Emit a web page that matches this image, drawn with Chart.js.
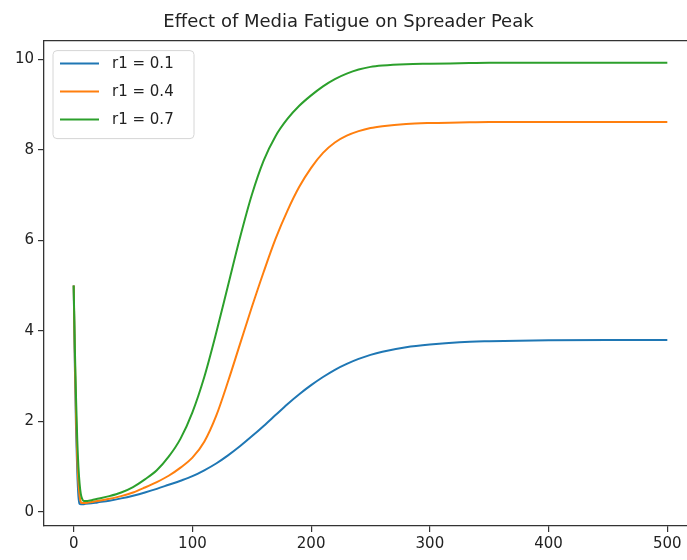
<!DOCTYPE html>
<html>
<head>
<meta charset="utf-8">
<script src="https://cdn.jsdelivr.net/npm/chart.js@4/dist/chart.umd.min.js"></script>
<style>
  html, body { margin: 0; padding: 0; background: #fff; overflow: hidden; }
  #clip { width: 687px; height: 560px; overflow: hidden; position: relative; }
  #wrap { width: 700px; height: 560px; position: absolute; left: 0; top: 0; }
</style>
</head>
<body>
<div id="clip"><div id="wrap"><canvas id="chart" width="700" height="560"></canvas></div></div>
<script>
// time steps and the three spreader curves
const tVals = [0, 1, 2, 3, 4, 5, 6, 7, 8, 10, 15, 20, 30, 40, 50, 60, 70, 80, 90, 100,
  110, 120, 130, 140, 150, 160, 170, 180, 190, 200, 210, 220, 230, 240, 250, 260,
  280, 300, 325, 350, 400, 450, 500];
const r1Low = [5, 3.2, 1.8, 0.9, 0.35, 0.18, 0.17, 0.17, 0.17, 0.18, 0.19, 0.21, 0.25, 0.3, 0.36, 0.43, 0.51, 0.6, 0.69, 0.79,
  0.92, 1.07, 1.25, 1.45, 1.67, 1.9, 2.14, 2.38, 2.6, 2.8, 2.98, 3.14, 3.27, 3.38, 3.47, 3.54,
  3.64, 3.7, 3.75, 3.77, 3.79, 3.8, 3.8];
const r1Mid = [5, 3.4, 2.1, 1.2, 0.65, 0.35, 0.22, 0.2, 0.2, 0.2, 0.22, 0.24, 0.29, 0.35, 0.43, 0.54, 0.66, 0.8, 0.98, 1.2,
  1.55, 2.12, 2.88, 3.7, 4.52, 5.3, 6.03, 6.65, 7.18, 7.6, 7.93, 8.16, 8.31, 8.41, 8.48, 8.52,
  8.57, 8.59, 8.6, 8.61, 8.61, 8.61, 8.61];
const r1High = [5, 3.6, 2.5, 1.6, 1.0, 0.62, 0.4, 0.3, 0.25, 0.24, 0.26, 0.29, 0.35, 0.43, 0.55, 0.72, 0.92, 1.22, 1.62, 2.2,
  2.98, 3.95, 5.0, 6.05, 7.0, 7.76, 8.3, 8.68, 8.97, 9.2, 9.4, 9.56, 9.68, 9.77, 9.83, 9.86,
  9.89, 9.9, 9.91, 9.92, 9.92, 9.92, 9.92];
const seriesLabels = ["r1 = 0.1", "r1 = 0.4", "r1 = 0.7"];
const xTicks = [0, 100, 200, 300, 400, 500];
const yTicks = [0, 2, 4, 6, 8, 10];

const colors = ["#1f77b4", "#ff7f0e", "#2ca02c"];
const FONT = "'DejaVu Sans', sans-serif";

const toPoints = (ys) => tVals.map((t, i) => ({ x: t, y: ys[i] }));

// top spine + matplotlib-like legend box
const framePlugin = {
  id: "frame",
  afterDraw(chart) {
    const { ctx, chartArea } = chart;
    ctx.save();
    ctx.strokeStyle = "#333";
    ctx.lineWidth = 1.3;
    ctx.beginPath();
    ctx.moveTo(chartArea.left, chartArea.top);
    ctx.lineTo(chartArea.right, chartArea.top);
    ctx.stroke();

    const x0 = chartArea.left + 9, y0 = chartArea.top + 10, w = 141, h = 88, r = 4;
    ctx.beginPath();
    ctx.moveTo(x0 + r, y0);
    ctx.arcTo(x0 + w, y0, x0 + w, y0 + h, r);
    ctx.arcTo(x0 + w, y0 + h, x0, y0 + h, r);
    ctx.arcTo(x0, y0 + h, x0, y0, r);
    ctx.arcTo(x0, y0, x0 + w, y0, r);
    ctx.closePath();
    ctx.fillStyle = "rgba(255,255,255,0.8)";
    ctx.fill();
    ctx.strokeStyle = "#d6d6d6";
    ctx.lineWidth = 1;
    ctx.stroke();

    chart.data.datasets.forEach((ds, i) => {
      const yy = y0 + 13 + i * 28;
      ctx.strokeStyle = ds.borderColor;
      ctx.lineWidth = 2;
      ctx.beginPath();
      ctx.moveTo(x0 + 7, yy);
      ctx.lineTo(x0 + 46, yy);
      ctx.stroke();
      ctx.fillStyle = "#222";
      ctx.font = "15px " + FONT;
      ctx.textBaseline = "middle";
      ctx.fillText(ds.label, x0 + 59, yy + 1);
    });
    ctx.restore();
  },
};

new Chart(document.getElementById("chart"), {
  type: "line",
  data: {
    datasets: [r1Low, r1Mid, r1High].map((ys, i) => ({
      label: seriesLabels[i],
      data: toPoints(ys),
      borderColor: colors[i],
      backgroundColor: colors[i],
      borderWidth: 2,
      pointRadius: 0,
      fill: false,
      cubicInterpolationMode: "monotone",
      order: 3 - i,
    })),
  },
  options: {
    responsive: false,
    animation: false,
    layout: { padding: { left: 0, right: 3, top: 0, bottom: 0 } },
    plugins: {
      legend: { display: false },
      tooltip: { enabled: false },
      title: {
        display: true,
        text: "Effect of Media Fatigue on Spreader Peak",
        color: "#222",
        font: { family: FONT, size: 18, weight: "normal" },
        padding: { top: 12, bottom: 7 },
      },
    },
    scales: {
      x: {
        type: "linear",
        min: -25,
        max: 525,
        afterBuildTicks: (s) => { s.ticks = xTicks.map((v) => ({ value: v })); },
        afterFit: (s) => { s.height = 34; },
        grid: { drawOnChartArea: false, drawTicks: true, tickLength: 6, color: "#333", lineWidth: 1.2 },
        border: { display: true, color: "#333", width: 1.3 },
        ticks: { color: "#222", padding: 3, font: { family: FONT, size: 15 }, maxRotation: 0 },
      },
      y: {
        type: "linear",
        min: -0.31,
        max: 10.41,
        afterBuildTicks: (s) => { s.ticks = yTicks.map((v) => ({ value: v })); },
        afterFit: (s) => { s.width = 44; },
        grid: { drawOnChartArea: false, drawTicks: true, tickLength: 6, color: "#333", lineWidth: 1.2 },
        border: { display: true, color: "#333", width: 1.3 },
        ticks: { color: "#222", padding: 4, font: { family: FONT, size: 15 } },
      },
    },
  },
  plugins: [framePlugin],
});
</script>
</body>
</html>
